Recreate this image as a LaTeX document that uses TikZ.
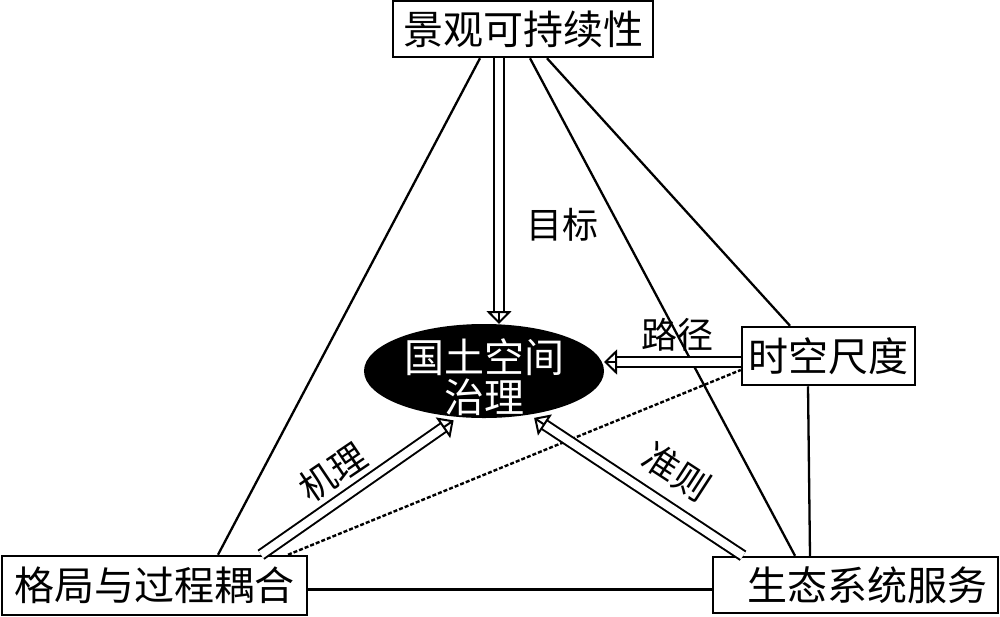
\documentclass[tikz,border=0pt]{standalone}
\usepackage{fontspec}
\newfontfamily\cjk{Noto Sans CJK SC}
\usetikzlibrary{arrows.meta,calc,shapes.geometric}
\newcommand\hollowarrow[2]{%
  \draw[shaft, shorten >=6pt] (#1) -- (#2);
  \draw[headtip] ($(#2)!1pt!(#1)$) -- (#2);}
\begin{document}
\begin{tikzpicture}[x=0.5pt,y=-0.5pt,
  box/.style={draw, line width=1.25pt, inner sep=0pt, font=\cjk\fontsize{20pt}{20pt}\selectfont},
  lbl/.style={inner sep=0pt, font=\cjk\fontsize{18pt}{18pt}\selectfont},
  link/.style={line width=1.15pt},
  dashlink/.style={line width=1.2pt, dash pattern=on 2pt off 1pt},
  shaft/.style={double, double distance=4pt, line width=1pt},
  headtip/.style={line width=1pt, -{Triangle[open, length=6.5pt, width=12.5pt]}}
]
\useasboundingbox (0,0) rectangle (1000,616);
% nodes
\node[box, minimum width=130pt, minimum height=28pt] (top) at (523,29) {景观可持续性};
\node[ellipse, draw, fill=black, line width=1pt, minimum width=119pt, minimum height=46pt, inner sep=0pt] (ell) at (484,371) {};
\node[text=white, align=center, inner sep=0pt, font=\cjk\fontsize{20pt}{20pt}\selectfont] (elltxt) at ([yshift=-3pt]ell.center) {国土空间\\治理};
\node[box, minimum width=86.5pt, minimum height=29pt] (ts) at (828.5,356) {时空尺度};
\node[box, minimum width=152.5pt, minimum height=29.5pt] (gl) at (154.5,585.5) {格局与过程耦合};
\node[box, minimum width=142.5pt, minimum height=28pt] (br) at (855.5,585) {\hspace*{12pt}生态系统服务};
% plain connectors
\draw[link] ([xshift=-21.5pt]top.south) -- ([xshift=31.75pt]gl.north);
\draw[link] ([xshift=3.5pt]top.south) -- ([xshift=-30.25pt]br.north);
\draw[link] ([xshift=12pt]top.south) -- ([xshift=-19.25pt]ts.north);
\draw[link] ([xshift=-10.25pt]ts.south) -- ([xshift=-22.75pt]br.north);
\coordinate (hl) at ([yshift=-2pt]gl.east);
\draw[link] (hl) -- (hl -| br.west);
\draw[dashlink] ([xshift=66.75pt]gl.north) -- ([yshift=-7pt]ts.west);
% hollow arrows
\coordinate (a1s) at ([xshift=-12pt]top.south);
\coordinate (a1e) at (a1s |- ell.north);
\coordinate (a2s) at ([yshift=-3pt]ts.west);
\coordinate (a2e) at (a2s -| ell.east);
\coordinate (a3s) at ([xshift=53.25pt]gl.north);
\coordinate (a3e) at ($(ell.241)!3pt!(a3s)$);
\coordinate (a4s) at ([xshift=-56.25pt]br.north);
\coordinate (a4e) at ($(ell.316)!3pt!(a4s)$);
\hollowarrow{a1s}{a1e}
\hollowarrow{a2s}{a2e}
\hollowarrow{a3s}{a3e}
\hollowarrow{a4s}{a4e}
% labels
\node[lbl] (mb) at (562,225) {目标};
\node[lbl] (lj) at (677,335) {路径};
\node[lbl, rotate=34] (jl) at (333,472) {机理};
\node[lbl, rotate=-33] (zz) at (677,472) {准则};
\end{tikzpicture}
\end{document}
